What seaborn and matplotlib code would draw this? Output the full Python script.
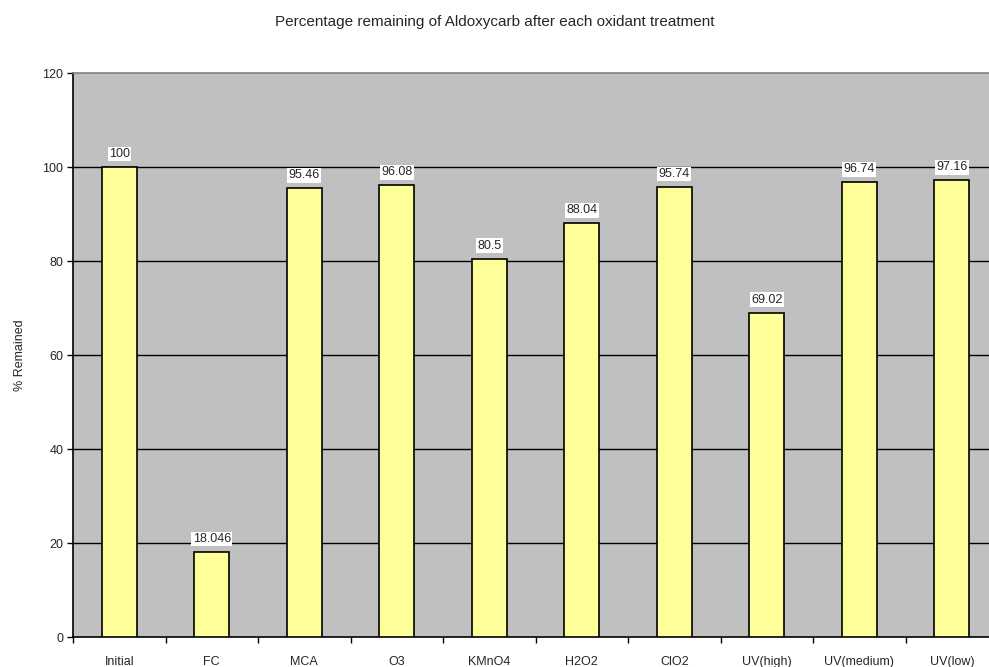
import matplotlib
matplotlib.use("Agg")
import matplotlib.pyplot as plt
import seaborn as sns
import pandas as pd
import numpy as np

# chart data
treatments = ["Initial", "FC", "MCA", "O3", "KMnO4", "H2O2", "ClO2",
              "UV(high)", "UV(medium)", "UV(low)"]
remaining = [100, 18.046, 95.46, 96.08, 80.5, 88.04, 95.74, 69.02, 96.74, 97.16]
value_labels = ["100", "18.046", "95.46", "96.08", "80.5", "88.04", "95.74",
                "69.02", "96.74", "97.16"]
y_ticks = [0, 20, 40, 60, 80, 100, 120]

df = pd.DataFrame({"Treatment": treatments, "Remained": remaining})

sns.set_style("white")
plt.rcParams['font.family'] = ['Liberation Sans', 'DejaVu Sans']

fig = plt.figure(figsize=(9.89, 6.67), dpi=100)
ax = fig.add_axes([73 / 989, 30 / 667, 925 / 989, 564 / 667])
ax.set_facecolor("#C0C0C0")

sns.barplot(data=df, x="Treatment", y="Remained", color="#FFFF99",
            saturation=1, width=0.38, edgecolor="black", linewidth=1.2,
            ax=ax, zorder=3)

# gridlines
for t in y_ticks[1:-1]:
    ax.axhline(t, color="black", lw=1, zorder=1)

# value labels
for i, (v, lab) in enumerate(zip(remaining, value_labels)):
    ax.annotate(lab, (i, v), xytext=(0, 5), textcoords="offset points",
                ha="center", va="bottom", fontsize=9, zorder=5,
                bbox=dict(boxstyle="square,pad=0.1", fc="white", ec="none"))

ax.set_xlim(-0.5, len(treatments) - 0.5)
ax.set_ylim(0, 120)
ax.set_yticks(y_ticks)
ax.set_yticklabels([str(t) for t in y_ticks], fontsize=9)
ax.set_xticks(range(len(treatments)))
ax.set_xticklabels(treatments, fontsize=9)
ax.set_xticks(np.arange(-0.5, len(treatments), 1), minor=True)
ax.tick_params(axis="x", which="major", bottom=False, length=0, pad=14)
ax.tick_params(axis="x", which="minor", bottom=True, length=4, width=1,
               color="black", direction="out")
ax.tick_params(axis="y", length=4, width=1, color="black", direction="out",
               pad=3, left=True)

ax.set_xlabel("")
ax.set_ylabel("% Remained", fontsize=9)
ax.yaxis.set_label_coords((26 - 73) / 925, 0.5)

for side in ["left", "bottom"]:
    ax.spines[side].set_color("black")
    ax.spines[side].set_linewidth(1.2)
ax.spines["top"].set_color("#808080")
ax.spines["top"].set_linewidth(1.2)
ax.spines["right"].set_visible(False)

fig.text(0.5, 1 - 22 / 667, "Percentage remaining of Aldoxycarb after each oxidant treatment",
         ha="center", va="center", fontsize=11)

fig.savefig("out.png", dpi=100)
